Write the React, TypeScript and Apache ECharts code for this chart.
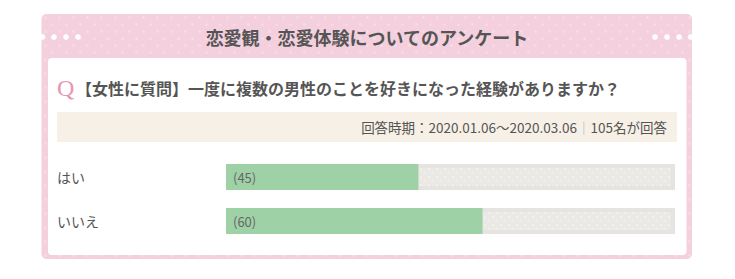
import React, { useEffect, useRef } from "react";
import * as echarts from "echarts";

const categories = ["はい", "いいえ"];
const values = [45, 60];
const total = 105;
const titleText = "恋愛観・恋愛体験についてのアンケート";
const questionText = "【女性に質問】一度に複数の男性のことを好きになった経験がありますか？";
const periodText = "回答時期：2020.01.06～2020.03.06";
const respondentsText = "105名が回答";

const FONT = '"Noto Sans CJK JP", "Noto Sans", sans-serif';

function makePattern(bg: string, dot: string, size: number, r: number) {
  const c = document.createElement("canvas");
  c.width = size;
  c.height = size;
  const ctx = c.getContext("2d")!;
  ctx.fillStyle = bg;
  ctx.fillRect(0, 0, size, size);
  ctx.fillStyle = dot;
  [
    [size / 4, size / 4],
    [(3 * size) / 4, (3 * size) / 4],
  ].forEach(([x, y]) => {
    ctx.beginPath();
    ctx.arc(x, y, r, 0, Math.PI * 2);
    ctx.fill();
  });
  return c;
}

export default function App() {
  const ref = useRef<HTMLDivElement>(null);
  useEffect(() => {
    if (!ref.current) return;
    const chart = echarts.init(ref.current, undefined, { renderer: "svg" });
    const pinkPattern = makePattern("#f4cfdd", "#f7dae5", 14, 1.6);

    const dotsL = [42.5, 54, 66, 78];
    const dotsR = [655, 667, 679, 690.5];
    const dots = [...dotsL, ...dotsR].map((x) => ({
      type: "circle",
      shape: { cx: x, cy: 37, r: 2.8 },
      style: { fill: "#ffffff" },
      z: -5,
    }));

    chart.setOption({
      animation: false,
      grid: { left: 226, right: 60, top: 155, height: 88, containLabel: false },
      xAxis: { type: "value", min: 0, max: total, show: false },
      yAxis: {
        type: "category",
        data: categories,
        inverse: true,
        z: 10,
        axisLine: { show: false },
        axisTick: { show: false },
        splitLine: { show: false },
        axisLabel: {
          align: "left",
          margin: 169,
          color: "#555555",
          fontSize: 14,
          fontFamily: FONT,
        },
      },
      graphic: [
        {
          type: "rect",
          shape: { x: 41.5, y: 14, width: 650.5, height: 245, r: 5 },
          style: { fill: { image: pinkPattern, repeat: "repeat" } as any },
          z: -10,
        },
        ...dots,
        {
          type: "text",
          x: 367,
          y: 37,
          style: {
            text: titleText,
            fill: "#555555",
            font: `bold 18px ${FONT}`,
            align: "center",
            verticalAlign: "middle",
          },
          z: -5,
        },
        {
          type: "rect",
          shape: { x: 48, y: 58, width: 638.5, height: 197, r: 4 },
          style: { fill: "#ffffff" },
          z: -5,
        },
        {
          type: "text",
          x: 57,
          y: 88,
          style: {
            text: "Q",
            fill: "#e895b3",
            font: `24px "Liberation Serif", serif`,
            align: "left",
            verticalAlign: "middle",
          },
          z: -4,
        },
        {
          type: "text",
          x: 76,
          y: 88,
          style: {
            text: questionText,
            fill: "#555555",
            font: `bold 16px ${FONT}`,
            align: "left",
            verticalAlign: "middle",
          },
          z: -4,
        },
        {
          type: "rect",
          shape: { x: 57, y: 112, width: 620, height: 30 },
          style: { fill: "#f7f0e6" },
          z: -4,
        },
        {
          type: "text",
          x: 667,
          y: 127,
          style: {
            text: `{a|${periodText}}{s|｜}{a|${respondentsText}}`,
            align: "right",
            verticalAlign: "middle",
            rich: {
              a: { fill: "#555555", fontSize: 13.5, fontFamily: FONT },
              s: { fill: "#aab3c6", fontSize: 13.5, fontFamily: FONT },
            },
          } as any,
          z: -3,
        },
      ],
      series: [
        {
          type: "bar",
          data: categories.map(() => total),
          barWidth: 26,
          barGap: "-100%",
          silent: true,
          z: 2,
          itemStyle: {
            color: "#ebe9e5",
            borderColor: "#e6e4e0",
            borderWidth: 4,
            decal: {
              symbol: "circle",
              symbolSize: 1,
              color: "rgba(255,255,255,0.35)",
              dashArrayX: [[2, 6], [0, 4, 2, 2]],
              dashArrayY: [2, 2],
            },
          },
        },
        {
          type: "bar",
          data: values,
          barWidth: 26,
          z: 3,
          itemStyle: { color: "#9fd1a6" },
          label: {
            show: true,
            position: "insideLeft",
            distance: 7,
            formatter: "({c})",
            color: "#666666",
            fontSize: 13,
            fontFamily: FONT,
          },
        },
      ],
    });
    return () => chart.dispose();
  }, []);
  return (
    <div
      ref={ref}
      style={{ position: "fixed", left: 0, top: 0, width: 735, height: 279, background: "#ffffff" }}
    />
  );
}
